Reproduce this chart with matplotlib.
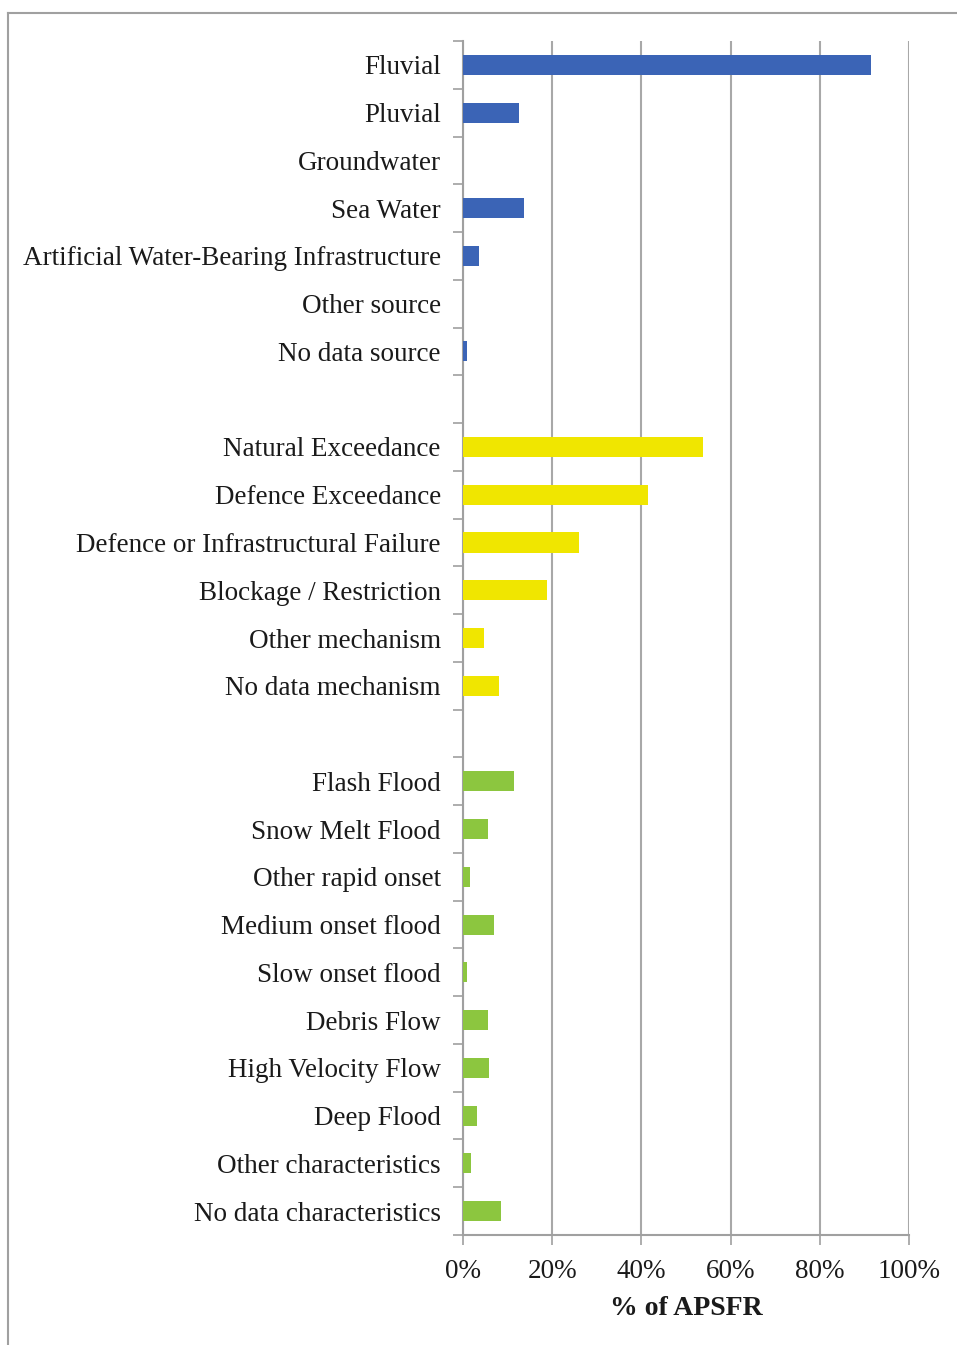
import numpy as np
import matplotlib.pyplot as plt
from matplotlib.lines import Line2D

# categories, top to bottom ('' = empty spacer row)
source_labels = ['Fluvial', 'Pluvial', 'Groundwater', 'Sea Water',
                 'Artificial Water-Bearing Infrastructure', 'Other source',
                 'No data source']
source_vals = [91.4, 12.5, 0.0, 13.7, 3.6, 0.0, 0.9]

mech_labels = ['Natural Exceedance', 'Defence Exceedance',
               'Defence or Infrastructural Failure', 'Blockage / Restriction',
               'Other mechanism', 'No data mechanism']
mech_vals = [53.8, 41.4, 26.1, 18.9, 4.7, 8.0]

char_labels = ['Flash Flood', 'Snow Melt Flood', 'Other rapid onset',
               'Medium onset flood', 'Slow onset flood', 'Debris Flow',
               'High Velocity Flow', 'Deep Flood', 'Other characteristics',
               'No data characteristics']
char_vals = [11.4, 5.5, 1.5, 7.0, 0.8, 5.5, 5.9, 3.2, 1.8, 8.6]

xticks = [0, 20, 40, 60, 80, 100]

colors = ['#3b64b6', '#f0e600', '#8cc63f']

plt.rcParams['font.family'] = ['Liberation Serif', 'DejaVu Serif']

fig = plt.figure(figsize=(9.57, 13.45), dpi=100)
ax = fig.add_axes([463 / 957, 1 - 1235 / 1345, 446 / 957, (1235 - 41) / 1345])

groups = [(source_labels, source_vals), (mech_labels, mech_vals), (char_labels, char_vals)]
labels = []
pos = 0
for gi, (labs, vals) in enumerate(groups):
    y = np.arange(pos, pos + len(labs))
    ax.barh(y, vals, height=0.42, color=colors[gi], zorder=3)
    labels += labs
    pos += len(labs)
    if gi < len(groups) - 1:
        labels.append('')
        pos += 1

n = len(labels)
ax.set_ylim(n - 0.5, -0.5)
ax.set_yticks(np.arange(n))
ax.set_yticklabels(labels, fontsize=19.5, color='#1a1a1a')
ax.tick_params(axis='y', length=0, pad=16)
ax.set_yticks(np.arange(n + 1) - 0.5, minor=True)
ax.tick_params(axis='y', which='minor', length=7, color='#a0a0a0', width=1.2)

ax.set_xlim(0, 100)
ax.set_xticks(xticks)
ax.set_xticklabels([f'{v}%' for v in xticks], fontsize=19.5, color='#1a1a1a')
ax.tick_params(axis='x', length=7, color='#a0a0a0', width=1.2, pad=10)
ax.xaxis.grid(True, color='#a8a8a8', linewidth=1.5, zorder=0)
ax.set_xlabel('% of APSFR', fontsize=20, fontweight='bold', color='#1a1a1a', labelpad=9)

for s in ['top', 'right']:
    ax.spines[s].set_visible(False)
for s in ['left', 'bottom']:
    ax.spines[s].set_color('#a0a0a0')
    ax.spines[s].set_linewidth(1.5)

# frame of the original screenshot
fig.add_artist(Line2D([8 / 957, 1], [1 - 13 / 1345] * 2, color='#a0a0a0', lw=1.5))
fig.add_artist(Line2D([8 / 957] * 2, [0, 1 - 13 / 1345], color='#a0a0a0', lw=1.5))

fig.savefig('out.png', dpi=100)
